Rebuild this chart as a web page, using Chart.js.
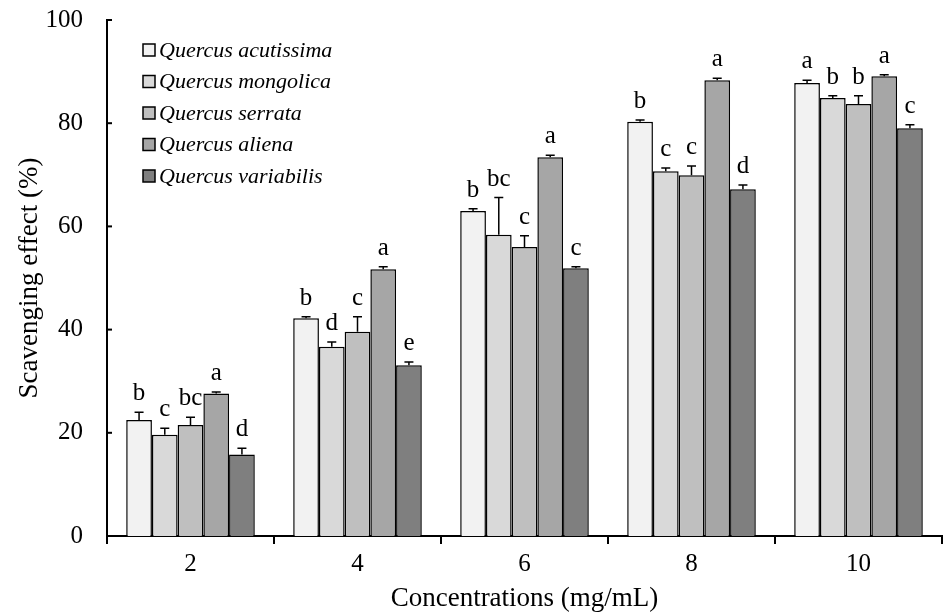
<!DOCTYPE html>
<html>
<head>
<meta charset="utf-8">
<script src="https://cdn.jsdelivr.net/npm/chart.js@4.4.1/dist/chart.umd.min.js"></script>
<style>
html, body { margin: 0; padding: 0; background: #fff; }
#wrap { width: 943px; height: 615px; }
</style>
</head>
<body>
<div id="wrap"><canvas id="chart"></canvas></div>
<script>
const concentrations = ['2', '4', '6', '8', '10'];
const species = ['Quercus acutissima', 'Quercus mongolica', 'Quercus serrata', 'Quercus aliena', 'Quercus variabilis'];

const acutissima = [22.5, 42.2, 63.0, 80.3, 87.8];
const mongolica  = [19.6, 36.7, 58.4, 70.7, 84.9];
const serrata    = [21.5, 39.6, 56.0, 69.9, 83.7];
const aliena     = [27.6, 51.7, 73.4, 88.3, 89.1];
const variabilis = [15.8, 33.1, 51.9, 67.2, 79.0];

const acutissimaErr = [1.5, 0.3, 0.4, 0.3, 0.5];
const mongolicaErr  = [1.3, 0.9, 7.2, 0.6, 0.4];
const serrataErr    = [1.5, 2.9, 2.2, 1.8, 1.6];
const alienaErr     = [0.3, 0.5, 0.4, 0.4, 0.3];
const variabilisErr = [1.2, 0.6, 0.3, 0.8, 0.7];

const acutissimaSig = ['b', 'b', 'b', 'b', 'a'];
const mongolicaSig  = ['c', 'd', 'bc', 'c', 'b'];
const serrataSig    = ['bc', 'c', 'c', 'c', 'b'];
const alienaSig     = ['a', 'a', 'a', 'a', 'a'];
const variabilisSig = ['d', 'e', 'c', 'd', 'c'];

const fills = ['#f2f2f2', '#d9d9d9', '#bfbfbf', '#a6a6a6', '#7f7f7f'];
const serif = 'Liberation Serif, Times New Roman, serif';

const values = [acutissima, mongolica, serrata, aliena, variabilis];
const errs = [acutissimaErr, mongolicaErr, serrataErr, alienaErr, variabilisErr];
const sigs = [acutissimaSig, mongolicaSig, serrataSig, alienaSig, variabilisSig];

// error bars, significance letters, inward y ticks and the legend box
const extras = {
    id: 'extras',
    afterDatasetsDraw(chart) {
        const ctx = chart.ctx;
        const y = chart.scales.y;
        const area = chart.chartArea;
        ctx.save();
        ctx.strokeStyle = '#000';
        ctx.lineWidth = 1.5;
        ctx.fillStyle = '#000';
        ctx.font = '25px ' + serif;
        ctx.textAlign = 'center';
        ctx.textBaseline = 'bottom';
        chart.data.datasets.forEach((ds, i) => {
            chart.getDatasetMeta(i).data.forEach((bar, j) => {
                const top = y.getPixelForValue(ds.data[j] + errs[i][j]);
                ctx.beginPath();
                ctx.moveTo(bar.x, bar.y);
                ctx.lineTo(bar.x, top);
                ctx.moveTo(bar.x - 4.5, top);
                ctx.lineTo(bar.x + 4.5, top);
                ctx.stroke();
                ctx.fillText(sigs[i][j], bar.x, top - 6);
            });
        });

        ctx.lineWidth = 2;
        y.ticks.forEach(t => {
            const py = y.getPixelForValue(t.value);
            ctx.beginPath();
            ctx.moveTo(area.left, py);
            ctx.lineTo(area.left + 5, py);
            ctx.stroke();
        });

        ctx.font = 'italic 22px ' + serif;
        ctx.textAlign = 'left';
        ctx.textBaseline = 'middle';
        ctx.lineWidth = 1.5;
        species.forEach((name, i) => {
            const cy = area.top + 30 + i * 31.5;
            const bx = area.left + 36;
            ctx.fillStyle = fills[i];
            ctx.fillRect(bx, cy - 6, 12, 12);
            ctx.strokeRect(bx, cy - 6, 12, 12);
            ctx.fillStyle = '#000';
            ctx.fillText(name, bx + 16, cy + 1);
        });
        ctx.restore();
    }
};

new Chart(
    document.getElementById('chart'),
    {
        type: 'bar',
        plugins: [extras],
        data: {
            labels: concentrations,
            datasets: species.map((name, i) => ({
                label: name,
                data: values[i],
                backgroundColor: fills[i],
                borderColor: '#000',
                borderWidth: 1.5,
                borderSkipped: 'bottom',
                categoryPercentage: 0.77,
                barPercentage: 1.0,
            })),
        },
        options: {
            responsive: true,
            maintainAspectRatio: false,
            animation: false,
            layout: { padding: { top: 20, right: 1, left: 0, bottom: 0 } },
            plugins: {
                tooltip: { enabled: false },
                legend: { display: false },
            },
            scales: {
                x: {
                    afterFit(scale) {
                        scale.height = 79;
                        scale.paddingLeft = 0;
                        scale.paddingRight = 0;
                    },
                    grid: { display: true, drawOnChartArea: false, tickLength: 8, color: '#000', lineWidth: 2, offset: true },
                    border: { color: '#000', width: 2 },
                    ticks: { color: '#000', font: { family: serif, size: 25 }, padding: 5 },
                    title: { display: true, text: 'Concentrations (mg/mL)', color: '#000', font: { family: serif, size: 27 }, padding: { top: 0, bottom: 0 } },
                },
                y: {
                    min: 0,
                    max: 100,
                    afterFit(scale) {
                        scale.width = 107;
                        scale.paddingTop = 0;
                        scale.paddingBottom = 0;
                    },
                    grid: { display: false },
                    border: { color: '#000', width: 2 },
                    ticks: { stepSize: 20, color: '#000', font: { family: serif, size: 25 }, padding: 16 },
                    title: { display: true, text: 'Scavenging effect (%)', color: '#000', font: { family: serif, size: 27 }, padding: 14 },
                },
            },
        },
    }
);
</script>
</body>
</html>
